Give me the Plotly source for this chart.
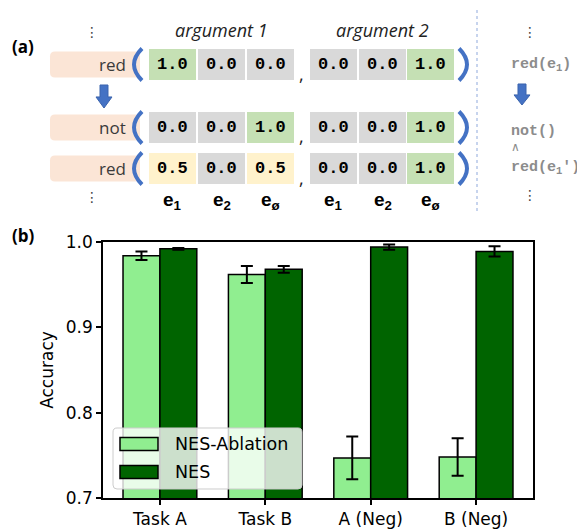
import plotly.graph_objects as go

# The page body adds an 8px margin, so the figure is sized to fill the rest of the window.
PAGE_OFF = 8
W, H = 585 - PAGE_OFF, 529 - PAGE_OFF

# ---------------- data: panel (b) ----------------
categories = ["Task A", "Task B", "A (Neg)", "B (Neg)"]
series_names = ["NES-Ablation", "NES"]
ablation_acc = [0.984, 0.962, 0.747, 0.748]
ablation_err = [0.005, 0.010, 0.025, 0.022]
nes_acc = [0.992, 0.968, 0.994, 0.989]
nes_err = [0.001, 0.004, 0.003, 0.006]
y_ticks = [0.7, 0.8, 0.9, 1.0]
series_colors = ["#90EE90", "#006400"]

# ---------------- data: panel (a) ----------------
row_tokens = ["red", "not", "red"]
arg1_values = [[1.0, 0.0, 0.0], [0.0, 0.0, 1.0], [0.5, 0.0, 0.5]]
arg2_values = [[0.0, 0.0, 1.0], [0.0, 0.0, 1.0], [0.0, 0.0, 1.0]]
entity_labels = ["e<sub>1</sub>", "e<sub>2</sub>", "e<sub>ø</sub>"]
argument_titles = ["argument 1", "argument 2"]
logic_before = "red(e<sub>1</sub>)"
logic_after = ["not()", "∧", "red(e<sub>1</sub>′)"]


def px(x):
    return (x - PAGE_OFF) / W


def py(y):
    return 1 - (y - PAGE_OFF) / H


def path(cmds):
    out = []
    for c in cmds:
        op = c[0]
        if op == "Z":
            out.append("Z")
            continue
        pts = c[1:]
        coords = []
        for i in range(0, len(pts), 2):
            coords.append(f"{px(pts[i]):.5f},{py(pts[i+1]):.5f}")
        out.append(op + " ".join(coords))
    return " ".join(out)


def rounded_rect(x0, y0, x1, y1, r):
    return path([
        ("M", x0 + r, y0), ("L", x1 - r, y0), ("Q", x1, y0, x1, y0 + r),
        ("L", x1, y1 - r), ("Q", x1, y1, x1 - r, y1), ("L", x0 + r, y1),
        ("Q", x0, y1, x0, y1 - r), ("L", x0, y0 + r), ("Q", x0, y0, x0 + r, y0), ("Z",),
    ])


def note(x, y, text, font, xanchor="center", yanchor="middle"):
    return dict(x=px(x), y=py(y), xref="paper", yref="paper", text=text,
                showarrow=False, xanchor=xanchor, yanchor=yanchor, font=font)


fig = go.Figure()

for name, vals, errs, col in [
    (series_names[0], ablation_acc, ablation_err, series_colors[0]),
    (series_names[1], nes_acc, nes_err, series_colors[1]),
]:
    fig.add_trace(go.Bar(
        x=categories, y=vals, name=name, showlegend=False,
        marker=dict(color=col, line=dict(color="black", width=1.5)),
        error_y=dict(type="data", array=errs, color="black", thickness=2, width=6),
    ))

shapes = []
annotations = []

# ---------------- panel (a) diagram ----------------
blue = "#4472C4"
row_centers = [64.5, 127.5, 168.5]
arg1_x = [149, 198, 247]
arg2_x = [310, 359, 407]
cell_w, cell_h = 47, 31


def cell_color(v):
    if v >= 0.99:
        return "#C5E0B4"
    if v > 0.01:
        return "#FFF2CC"
    return "#D9D9D9"


for r, c in enumerate(row_centers):
    shapes.append(dict(type="path", xref="paper", yref="paper",
                       path=rounded_rect(50, c - 13, 140, c + 13, 5),
                       fillcolor="#FBE5D6", line=dict(width=0), layer="above"))
    annotations.append(note(128, c, row_tokens[r],
                            dict(family="Open Sans", size=17, color="#3a3a3a"),
                            xanchor="right"))
    for vals, xs in [(arg1_values[r], arg1_x), (arg2_values[r], arg2_x)]:
        for v, x0 in zip(vals, xs):
            shapes.append(dict(type="rect", xref="paper", yref="paper",
                               x0=px(x0), x1=px(x0 + cell_w), y0=py(c - cell_h / 2),
                               y1=py(c + cell_h / 2), fillcolor=cell_color(v),
                               line=dict(width=0), layer="above"))
            annotations.append(note(x0 + cell_w / 2, c, f"<b>{v:.1f}</b>",
                                    dict(family="Liberation Mono", size=17, color="black")))
    shapes.append(dict(type="path", xref="paper", yref="paper",
                       path=path([("M", 142, c - 16), ("Q", 126, c, 142, c + 16)]),
                       line=dict(color=blue, width=4), fillcolor="rgba(0,0,0,0)", layer="above"))
    shapes.append(dict(type="path", xref="paper", yref="paper",
                       path=path([("M", 459, c - 16), ("Q", 475, c, 459, c + 16)]),
                       line=dict(color=blue, width=4), fillcolor="rgba(0,0,0,0)", layer="above"))
    annotations.append(note(301, c + 9, ",", dict(family="Open Sans", size=18, color="#222")))

for t, xs in zip(argument_titles, [arg1_x, arg2_x]):
    annotations.append(note((xs[0] + xs[-1] + cell_w) / 2, 30, f"<i>{t}</i>",
                            dict(family="Open Sans", size=18, color="#222")))

for xs in [arg1_x, arg2_x]:
    for lab, x0 in zip(entity_labels, xs):
        annotations.append(note(x0 + cell_w / 2, 201, f"<b>{lab}</b>",
                                dict(family="Liberation Sans", size=19, color="black")))


def arrow(cx, ytop, ybot):
    yh = ytop + (ybot - ytop) * 0.52
    return path([("M", cx - 4, ytop), ("L", cx + 4, ytop), ("L", cx + 4, yh),
                 ("L", cx + 8, yh), ("L", cx, ybot), ("L", cx - 8, yh),
                 ("L", cx - 4, yh), ("Z",)])


shapes.append(dict(type="path", xref="paper", yref="paper", path=arrow(104, 85, 108),
                   fillcolor=blue, line=dict(color="#3b64ad", width=1), layer="above"))
shapes.append(dict(type="path", xref="paper", yref="paper", path=arrow(522, 84, 105),
                   fillcolor=blue, line=dict(color="#3b64ad", width=1), layer="above"))

shapes.append(dict(type="line", xref="paper", yref="paper", x0=px(477), x1=px(477),
                   y0=py(10), y1=py(214), line=dict(color="#8fa9dc", width=1, dash="dot"),
                   layer="above"))

for (x, y) in [(92, 32), (92, 197), (530, 32), (530, 195)]:
    annotations.append(note(x, y, "⋮", dict(family="DejaVu Sans", size=14, color="#444")))

annotations.append(note(509, 65, f"<b>{logic_before}</b>",
                        dict(family="Liberation Mono", size=15, color="#8c8c8c"),
                        xanchor="left"))
for txt, y, sz in zip(logic_after, [131, 148, 168], [15, 12, 15]):
    annotations.append(note(509, y, f"<b>{txt}</b>" if txt != "∧" else txt,
                            dict(family="Liberation Mono", size=sz, color="#8c8c8c"),
                            xanchor="left"))

annotations.append(note(23, 46, "<b>(a)</b>", dict(family="Open Sans", size=17, color="black")))
annotations.append(note(23, 236, "<b>(b)</b>", dict(family="Open Sans", size=17, color="black")))

# ---------------- legend (b) ----------------
shapes.append(dict(type="path", xref="paper", yref="paper",
                   path=rounded_rect(113, 428, 302, 489, 4),
                   fillcolor="rgba(255,255,255,0.8)", line=dict(color="#cccccc", width=1),
                   layer="above"))
for i, (name, col) in enumerate(zip(series_names, series_colors)):
    cy = 444 + i * 28
    shapes.append(dict(type="rect", xref="paper", yref="paper", x0=px(120), x1=px(158),
                       y0=py(cy - 6.5), y1=py(cy + 6.5), fillcolor=col,
                       line=dict(color="black", width=1.5), layer="above"))
    annotations.append(note(173, cy, name, dict(family="DejaVu Sans", size=17.5, color="black"),
                            xanchor="left"))

fig.update_layout(
    template="none",
    width=W, height=H, margin=dict(l=0, r=0, t=0, b=0, autoexpand=False),
    paper_bgcolor="white", plot_bgcolor="white",
    barmode="group", bargap=0.3, bargroupgap=0.0,
    font=dict(family="DejaVu Sans", size=17, color="black"),
    shapes=shapes, annotations=annotations,
    xaxis=dict(domain=[px(103), px(533)], range=[-0.54, 3.54], showline=True,
               linecolor="black", linewidth=1.5, mirror=True, ticks="outside",
               ticklen=5, tickwidth=1.5, tickcolor="black", showgrid=False,
               automargin=False, tickfont=dict(size=17)),
    yaxis=dict(domain=[py(498), py(242)], range=[0.7, 1.0], tickvals=y_ticks,
               tickformat=".1f", showline=True, linecolor="black", linewidth=1.5,
               mirror=True, ticks="outside", ticklen=5, tickwidth=1.5,
               tickcolor="black", showgrid=False, zeroline=False, automargin=False,
               tickfont=dict(size=17),
               title=dict(text="Accuracy", font=dict(size=17), standoff=8)),
)

fig.write_html("out.html")
